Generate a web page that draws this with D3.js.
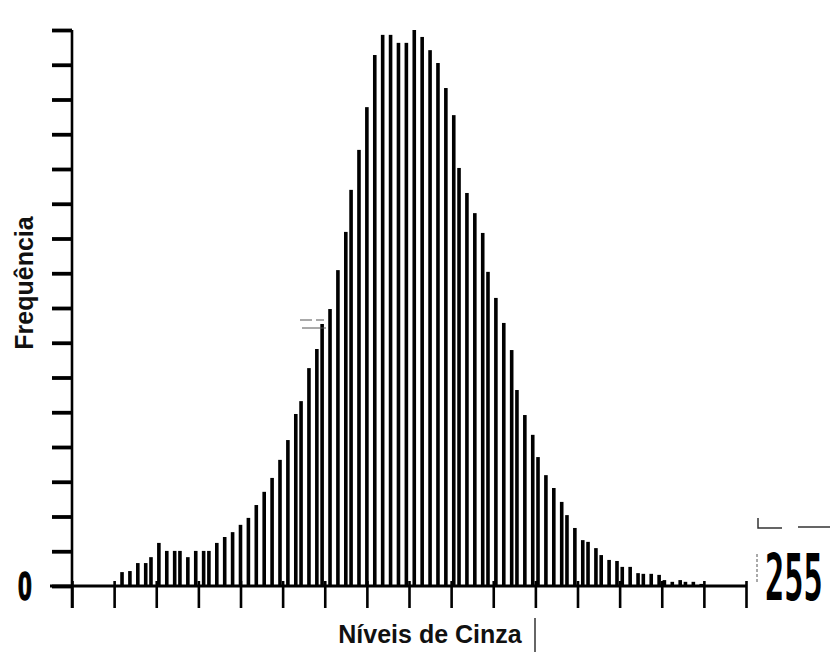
<!DOCTYPE html>
<html>
<head>
<meta charset="utf-8">
<script src="https://cdn.jsdelivr.net/npm/d3@7"></script>
<style>
  body { margin: 0; background: #fff; }
  svg { display: block; }
</style>
</head>
<body>
<div id="chart"></div>
<script>
// gray level of each drawn bar
const levels = [19, 22, 25, 28, 30, 33, 36, 39, 41, 44, 47, 50, 52, 55, 58, 61, 64, 67, 70, 73,
  76, 79, 82, 85, 87, 90, 93, 95, 98, 101, 104, 106, 109, 112, 115, 118, 121, 124, 127, 130,
  133, 136, 139, 142, 145, 147, 150, 153, 156, 158, 161, 164, 167, 169, 172, 175, 177, 180, 183, 186,
  188, 191, 194, 196, 199, 201, 204, 207, 209, 212, 215, 217, 220, 223, 225, 228, 231, 233, 236, 239];

// frequency of each bar (y axis runs 0..1600, 16 ticks)
const freqs = [40, 43, 66, 66, 83, 124, 101, 101, 101, 83, 101, 101, 101, 124, 141, 155, 176, 196, 233, 271,
  311, 363, 420, 495, 532, 627, 682, 754, 797, 909, 1019, 1140, 1255, 1378, 1528, 1586, 1586, 1563, 1563, 1600,
  1580, 1542, 1505, 1433, 1355, 1203, 1131, 1073, 1016, 904, 829, 757, 679, 564, 492, 435, 371, 319, 282, 242,
  204, 167, 132, 127, 109, 89, 75, 72, 55, 55, 37, 35, 35, 32, 17, 12, 17, 12, 12, 6];

const xTicks = d3.range(0, 257, 16);
const yTicks = d3.range(0, 1601, 100);
const xEndLabels = ['0', '255'];
const xTitle = 'Níveis de Cinza';
const yTitle = 'Frequência';

const W = 836, H = 652;
const svg = d3.select('#chart').append('svg')
  .attr('width', W)
  .attr('height', H)
  .style('background', '#fff');

const x = d3.scaleLinear().domain([0, 256]).range([72, 746]);
const y = d3.scaleLinear().domain([0, 1600]).range([586, 30]);

const bars = levels.map((l, i) => ({level: l, freq: freqs[i]}));

// bars
svg.append('g')
  .selectAll('rect')
  .data(bars)
  .enter()
  .append('rect')
  .attr('x', d => x(d.level) - 1.8)
  .attr('width', 3.6)
  .attr('y', d => y(d.freq))
  .attr('height', d => y(0) - y(d.freq))
  .attr('fill', '#000');

// y axis: ticks to the left only
const yAxis = svg.append('g')
  .attr('transform', `translate(${x(0)},0)`)
  .call(d3.axisLeft(y).tickValues(yTicks).tickSize(20).tickFormat(''));
yAxis.select('.domain').remove();
yAxis.selectAll('.tick line').attr('stroke', '#000').attr('stroke-width', 3.8);

svg.append('line')
  .attr('x1', x(0)).attr('x2', x(0))
  .attr('y1', y(1600)).attr('y2', y(0) + 22)
  .attr('stroke', '#000').attr('stroke-width', 2.6);

// x axis: ticks down from the baseline
const xAxis = svg.append('g')
  .attr('transform', `translate(0,${y(0) - 5})`)
  .call(d3.axisBottom(x).tickValues(xTicks).tickSize(27).tickFormat(''));
xAxis.select('.domain').remove();
xAxis.selectAll('.tick line').attr('stroke', '#000').attr('stroke-width', 2.6);

svg.append('line')
  .attr('x1', x(0) - 22).attr('x2', x(256))
  .attr('y1', y(0)).attr('y2', y(0))
  .attr('stroke', '#000').attr('stroke-width', 3.2);

// end labels
svg.append('text')
  .attr('transform', `translate(${x(0) - 47},${y(0) + 14}) scale(0.62,1)`)
  .attr('text-anchor', 'middle')
  .style('font-family', 'Liberation Sans, Arial, sans-serif')
  .style('font-weight', 'bold')
  .style('font-size', '40px')
  .style('stroke', '#000')
  .style('stroke-width', '1.5px')
  .attr('fill', '#000')
  .text(xEndLabels[0]);

svg.append('text')
  .attr('transform', `translate(${x(256) + 19},${y(0) + 14}) scale(0.5,1)`)
  .attr('text-anchor', 'start')
  .style('font-family', 'DejaVu Sans Mono')
  .style('font-weight', 'bold')
  .style('font-size', '64px')
  .attr('fill', '#000')
  .text(xEndLabels[1]);

// axis titles
svg.append('text')
  .attr('x', 430)
  .attr('y', 643)
  .attr('text-anchor', 'middle')
  .style('font-family', 'Liberation Sans, Arial, sans-serif')
  .style('font-weight', 'bold')
  .style('font-size', '25px')
  .attr('fill', '#111')
  .text(xTitle);

svg.append('text')
  .attr('transform', 'translate(33,283) rotate(-90)')
  .attr('text-anchor', 'middle')
  .style('font-family', 'Liberation Sans, Arial, sans-serif')
  .style('font-weight', 'bold')
  .style('font-size', '25px')
  .attr('fill', '#111')
  .text(yTitle);

// scan marks
svg.append('line')
  .attr('x1', 535).attr('x2', 535).attr('y1', 618).attr('y2', 652)
  .attr('stroke', '#333').attr('stroke-width', 1.5);
svg.append('path')
  .attr('d', 'M758,518 V528 H782 M798,527 H830')
  .attr('fill', 'none').attr('stroke', '#333').attr('stroke-width', 1.5);
svg.append('line')
  .attr('x1', 757).attr('x2', 757).attr('y1', 554).attr('y2', 582)
  .attr('stroke', '#555').attr('stroke-width', 1).attr('stroke-dasharray', '3,2');
svg.append('path')
  .attr('d', 'M300,320 H312 M316,320 H324 M302,328 H326')
  .attr('fill', 'none').attr('stroke', '#555').attr('stroke-width', 1);
</script>
</body>
</html>
